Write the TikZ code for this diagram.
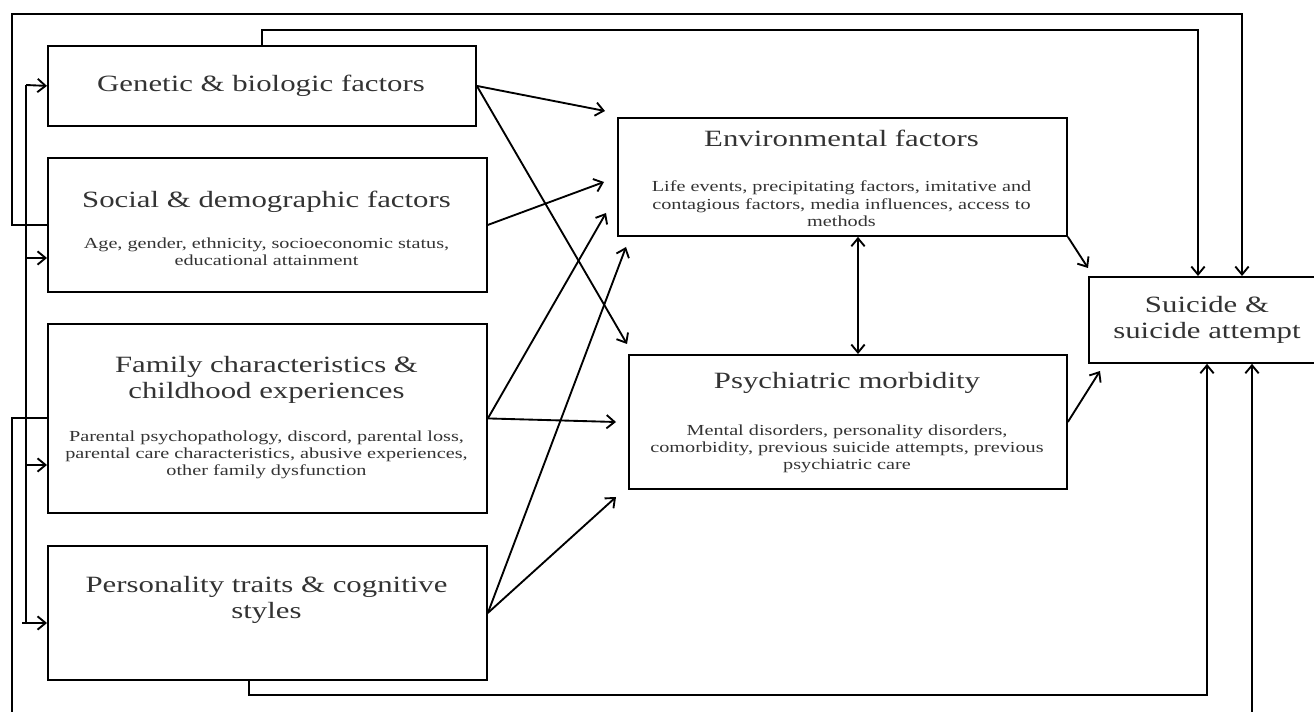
\documentclass[tikz,border=0pt]{standalone}
\usepackage{fontspec}
\setmainfont{Liberation Serif}[FakeStretch=1.32]
\usetikzlibrary{arrows.meta,calc}
\begin{document}
\begin{tikzpicture}[x=0.75pt,y=-0.75pt,
  box/.style={draw, line width=1.4pt, rectangle, inner sep=0pt, anchor=north west},
  ttl/.style={font=\fontsize{17.5}{20}\selectfont, text=black!80, align=center, inner sep=0pt},
  sub/.style={font=\fontsize{11.5}{13}\selectfont, text=black!80, align=center, inner sep=0pt},
  ln/.style={line width=1.4pt},
  arr/.style={line width=1.4pt, -{Straight Barb[length=6pt,width=10pt]}},
  dbl/.style={line width=1.4pt, {Straight Barb[length=6pt,width=10pt]}-{Straight Barb[length=6pt,width=10pt]}}]
\useasboundingbox (0,0) rectangle (1314,712);
\clip (0,0) rectangle (1314,712);

% boxes
\node[box, minimum width=321pt,    minimum height=60pt]    (gen) at (47,45) {};
\node[box, minimum width=329.25pt, minimum height=100.5pt] (soc) at (47,157) {};
\node[box, minimum width=329.25pt, minimum height=141.75pt] (fam) at (47,323) {};
\node[box, minimum width=329.25pt, minimum height=100.5pt] (per) at (47,545) {};
\node[box, minimum width=336.75pt, minimum height=88.5pt]  (env) at (617,117) {};
\node[box, minimum width=328.5pt,  minimum height=100.5pt] (psy) at (628,354) {};
\node[box, minimum width=178.5pt,  minimum height=64.5pt]  (sui) at (1088,276) {};

% texts
\node[ttl] (genT) at (261,86) {Genetic \& biologic factors};
\node[ttl] (socT) at (266.5,202) {Social \& demographic factors};
\node[sub] (socS) at (266.5,252) {Age, gender, ethnicity, socioeconomic status,\\educational attainment};
\node[ttl] (famT) at (266.5,380) {Family characteristics \&\\childhood experiences};
\node[sub] (famS) at (266.5,455) {Parental psychopathology, discord, parental loss,\\parental care characteristics, abusive experiences,\\other family dysfunction};
\node[ttl] (perT) at (266.5,600) {Personality traits \& cognitive\\styles};
\node[ttl] (envT) at (841.5,138) {Environmental factors};
\node[sub] (envS) at (841.5,204) {Life events, precipitating factors, imitative and\\contagious factors, media influences, access to\\methods};
\node[ttl] (psyT) at (847,383) {Psychiatric morbidity};
\node[sub] (psyS) at (847,449) {Mental disorders, personality disorders,\\comorbidity, previous suicide attempts, previous\\psychiatric care};
\node[ttl] (suiT) at (1207,320) {Suicide \&\\suicide attempt};

% coordinates
\coordinate (tGE) at (605,111);
\coordinate (tGP) at (627,344);
\coordinate (tSE) at (604,182);
\coordinate (tFE) at (606,213);
\coordinate (tFP) at (616,422);
\coordinate (tPE) at (626,247);
\coordinate (tPP) at (616,497);
\coordinate (tES) at (1088,268);
\coordinate (tPS) at (1100,371);
\coordinate (xEP) at (858,0);
\coordinate (xA) at (1242,0);
\coordinate (xB) at (1198,0);
\coordinate (xC) at (1207,0);
\coordinate (xD) at (1252,0);
\coordinate (oT) at (12,14);
\coordinate (iT) at (262,30);
\coordinate (oB) at (12,724);
\coordinate (iB) at (249,695);
\coordinate (busTop) at (26,85);
\coordinate (busBot) at (26,623);
\coordinate (bS) at (26,258);
\coordinate (bF) at (26,465);
\coordinate (bP) at (22,623);

% connectors
\draw[arr] (gen.east) -- (tGE);
\draw[arr] (gen.east) -- (tGP);
\draw[arr] (soc.east) -- (tSE);
\draw[arr] (fam.east) -- (tFE);
\draw[arr] (fam.east) -- (tFP);
\draw[arr] (per.east) -- (tPE);
\draw[arr] (per.east) -- (tPP);
\draw[dbl] (xEP |- env.south) -- (xEP |- psy.north);
\draw[arr] (env.south east) -- (tES);
\draw[arr] (psy.east) -- (tPS);

\draw[arr] (soc.west) -| (oT) -| (xA |- sui.north);
\draw[arr] (gen.north) |- (xB |- iT) -- (xB |- sui.north);
\draw[arr] (fam.west) -| (oB) -| (xD |- sui.south);
\draw[arr] (per.south -| iB) |- (xC |- iB) -- (xC |- sui.south);

\draw[ln] (busTop) -- (busBot);
\draw[arr] (busTop) -- (gen.west);
\draw[arr] (bS) -- (bS -| soc.west);
\draw[arr] (bF) -- (bF -| fam.west);
\draw[arr] (bP) -- (bP -| per.west);
\end{tikzpicture}
\end{document}
